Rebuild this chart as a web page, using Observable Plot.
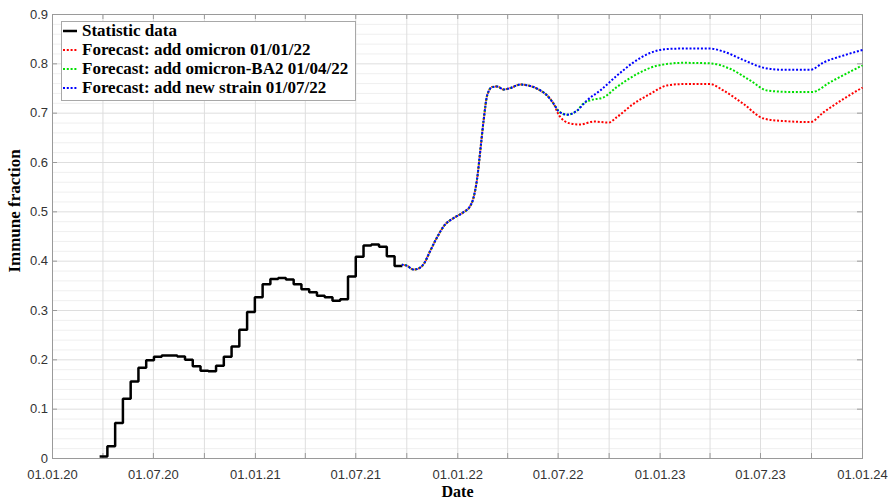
<!DOCTYPE html>
<html><head><meta charset="utf-8">
<script src="https://cdn.jsdelivr.net/npm/d3@7"></script>
<script src="https://cdn.jsdelivr.net/npm/@observablehq/plot@0.6"></script>
<style>
body{margin:0;background:#fff;}
#wrap{position:relative;width:891px;height:500px;}
#legend{position:absolute;left:61px;top:21px;width:295px;height:80px;border:1px solid #a8a8a8;background:#fff;font:bold 17px "Liberation Serif";color:#000;box-sizing:border-box;padding-top:0px}
.row{display:flex;align-items:center;height:18.8px;white-space:nowrap}
.row svg{margin-left:1px;margin-right:5px;flex:none}
</style></head><body><div id="wrap"></div>
<script>
// Statistic data (step line)
const stepDates = ["2020-03-26","2020-04-09","2020-04-23","2020-05-07","2020-05-21","2020-06-04","2020-06-18","2020-07-02","2020-07-16","2020-07-30","2020-08-13","2020-08-27","2020-09-10","2020-09-24","2020-10-08","2020-10-22","2020-11-05","2020-11-19","2020-12-03","2020-12-17","2020-12-31","2021-01-14","2021-01-28","2021-02-11","2021-02-25","2021-03-11","2021-03-25","2021-04-08","2021-04-22","2021-05-06","2021-05-20","2021-06-03","2021-06-17","2021-07-01","2021-07-15","2021-07-29","2021-08-12","2021-08-26","2021-09-09","2021-09-23"];
const stepValues = [0.004,0.025,0.072,0.121,0.156,0.184,0.199,0.206,0.209,0.209,0.207,0.200,0.187,0.178,0.177,0.188,0.206,0.227,0.261,0.297,0.327,0.353,0.364,0.366,0.363,0.353,0.343,0.337,0.330,0.327,0.320,0.323,0.369,0.409,0.432,0.434,0.429,0.410,0.390,0.390];

// Common forecast part
const commonDates = ["2021-09-22","2021-10-01","2021-10-13","2021-10-22","2021-11-01","2021-11-12","2021-11-24","2021-12-09","2021-12-24","2022-01-11","2022-01-23","2022-01-29","2022-02-05","2022-02-11","2022-02-17","2022-02-23","2022-03-04","2022-03-13","2022-03-25","2022-04-06","2022-04-24","2022-05-12","2022-05-30","2022-06-11","2022-06-23"];
const commonValues = [0.393,0.391,0.383,0.385,0.395,0.420,0.447,0.474,0.487,0.499,0.511,0.527,0.568,0.628,0.689,0.736,0.753,0.754,0.748,0.751,0.758,0.755,0.746,0.736,0.719];

// Forecast: add omicron 01/01/22 (red)
const redDates = ["2022-07-03","2022-07-23","2022-08-10","2022-09-03","2022-09-30","2022-10-15","2022-11-14","2022-12-14","2023-01-13","2023-02-12","2023-04-01","2023-04-25","2023-05-31","2023-07-07","2023-08-12","2023-09-29","2023-10-23","2023-11-28","2024-01-01"];
const redValues = [0.695,0.679,0.677,0.683,0.681,0.692,0.719,0.739,0.756,0.759,0.759,0.746,0.719,0.689,0.684,0.682,0.702,0.729,0.752];

// Forecast: add omicron-BA2 01/04/22 (green)
const greenDates = ["2022-07-02","2022-07-17","2022-08-04","2022-08-15","2022-08-28","2022-09-21","2022-10-15","2022-11-20","2022-12-26","2023-02-12","2023-04-01","2023-05-07","2023-06-13","2023-07-13","2023-08-24","2023-10-02","2023-11-04","2024-01-01"];
const greenValues = [0.704,0.697,0.705,0.719,0.726,0.732,0.753,0.779,0.796,0.802,0.801,0.790,0.766,0.746,0.743,0.743,0.763,0.797];

// Forecast: add new strain 01/07/22 (blue)
const blueDates = ["2022-07-02","2022-07-17","2022-08-04","2022-08-22","2022-09-15","2022-10-15","2022-11-14","2022-12-14","2023-01-13","2023-02-12","2023-04-01","2023-04-25","2023-05-31","2023-07-07","2023-08-12","2023-09-29","2023-10-23","2023-11-28","2024-01-01"];
const blueValues = [0.704,0.697,0.705,0.726,0.746,0.776,0.803,0.822,0.830,0.831,0.831,0.825,0.808,0.792,0.788,0.788,0.803,0.817,0.828];

// Ticks
const xTickDates = ["2020-01-01","2020-04-01","2020-07-01","2020-10-01","2021-01-01","2021-04-01","2021-07-01","2021-10-01","2022-01-01","2022-04-01","2022-07-01","2022-10-01","2023-01-01","2023-04-01","2023-07-01","2023-10-01","2024-01-01"];
const xLabelDates = ["2020-01-01","2020-07-01","2021-01-01","2021-07-01","2022-01-01","2022-07-01","2023-01-01","2023-07-01","2024-01-01"];
const xTickLabels = ["01.01.20","01.07.20","01.01.21","01.07.21","01.01.22","01.07.22","01.01.23","01.07.23","01.01.24"];
const yTicks = [0,0.1,0.2,0.3,0.4,0.5,0.6,0.7,0.8,0.9];
const yTickLabels = ["0","0.1","0.2","0.3","0.4","0.5","0.6","0.7","0.8","0.9"];
const yMinor = [0.02,0.04,0.06,0.08,0.12,0.14,0.16,0.18,0.22,0.24,0.26,0.28,0.32,0.34,0.36,0.38,0.42,0.44,0.46,0.48,0.52,0.54,0.56,0.58,0.62,0.64,0.66,0.68,0.72,0.74,0.76,0.78,0.82,0.84,0.86,0.88];

const seriesNames = ["Statistic data","Forecast: add omicron 01/01/22","Forecast: add omicron-BA2 01/04/22","Forecast: add new strain 01/07/22"];
const seriesColors = ["#000000","#ff0000","#00e000","#0000ff"];

const parse = d3.utcParse("%Y-%m-%d");
const stepData = stepDates.map((d,i)=>({date: parse(d), value: stepValues[i]}));
const mk = (dates, values) => commonDates.concat(dates).map((d,i)=>({date: parse(d), value: commonValues.concat(values)[i]}));
const redData = mk(redDates, redValues);
const greenData = mk(greenDates, greenValues);
const blueData = mk(blueDates, blueValues);
const xTicks = xTickDates.map(parse);
const xLab = xLabelDates.map(parse);
const xLabMap = new Map(xLab.map((d,i)=>[+d, xTickLabels[i]]));
const yLabMap = new Map(yTicks.map((d,i)=>[d, yTickLabels[i]]));
const axisColor = "#9a9a9a";
const dash = "2,1.8";

const chart = Plot.plot({
  width: 891, height: 500,
  marginLeft: 52, marginRight: 29, marginTop: 14, marginBottom: 42,
  style: {fontFamily: "Liberation Sans", fontSize: "13px", color: "#333", background: "#fff"},
  x: {type: "utc", domain: [parse("2020-01-01"), parse("2024-01-01")], label: null},
  y: {domain: [0, 0.9], label: null},
  marks: [
    Plot.gridY(yMinor, {stroke: "#efefef", strokeOpacity: 1}),
    Plot.gridY(yTicks, {stroke: "#dedede", strokeOpacity: 1}),
    Plot.gridX(xTicks, {stroke: "#dedede", strokeOpacity: 1}),
    Plot.frame({stroke: axisColor}),
    Plot.tickX(xTicks, {x: d => d, insetTop: 439, stroke: axisColor}),
    Plot.tickX(xTicks, {x: d => d, insetBottom: 439, stroke: axisColor}),
    Plot.tickY(yTicks, {y: d => d, insetRight: 805, stroke: axisColor}),
    Plot.tickY(yTicks, {y: d => d, insetLeft: 805, stroke: axisColor}),
    Plot.axisX(xLab, {tickSize: 0, tickPadding: 11, tickFormat: d => xLabMap.get(+d)}),
    Plot.axisY(yTicks, {tickSize: 0, tickPadding: 4.5, tickFormat: d => yLabMap.get(d)}),
    Plot.line(stepData, {x: "date", y: "value", curve: "step-after", stroke: seriesColors[0], strokeWidth: 2.5, strokeLinejoin: "miter", strokeLinecap: "butt"}),
    Plot.line(redData, {x: "date", y: "value", curve: "monotone-x", stroke: seriesColors[1], strokeWidth: 2, strokeDasharray: dash, strokeDashoffset: 1.3, strokeLinecap: "butt"}),
    Plot.line(greenData, {x: "date", y: "value", curve: "monotone-x", stroke: seriesColors[2], strokeWidth: 2, strokeDasharray: dash, strokeDashoffset: 0.6, strokeLinecap: "butt"}),
    Plot.line(blueData, {x: "date", y: "value", curve: "monotone-x", stroke: seriesColors[3], strokeWidth: 2, strokeDasharray: dash, strokeLinecap: "butt"}),
    Plot.text(["Date"], {text: d => d, frameAnchor: "bottom", lineAnchor: "middle", textAnchor: "middle", dy: 33, fontFamily: "Liberation Serif", fontWeight: "bold", fontSize: 16, fill: "#000"}),
    Plot.text(["Immune fraction"], {text: d => d, frameAnchor: "left", lineAnchor: "middle", textAnchor: "middle", dx: -38, dy: -25.5, rotate: -90, fontFamily: "Liberation Serif", fontWeight: "bold", fontSize: 17, fill: "#000"})
  ]
});
const wrap = document.getElementById("wrap");
wrap.appendChild(chart);

const legend = document.createElement("div");
legend.id = "legend";
seriesNames.forEach((name, i) => {
  const row = document.createElement("div");
  row.className = "row";
  const sw = i === 0
    ? `<svg width="14" height="6"><line x1="0" y1="3" x2="14" y2="3" stroke="${seriesColors[i]}" stroke-width="2.5"/></svg>`
    : `<svg width="14" height="6"><line x1="0" y1="3" x2="14" y2="3" stroke="${seriesColors[i]}" stroke-width="2" stroke-dasharray="${dash}"/></svg>`;
  row.innerHTML = sw + `<span>${name}</span>`;
  legend.appendChild(row);
});
wrap.appendChild(legend);
</script></body></html>
